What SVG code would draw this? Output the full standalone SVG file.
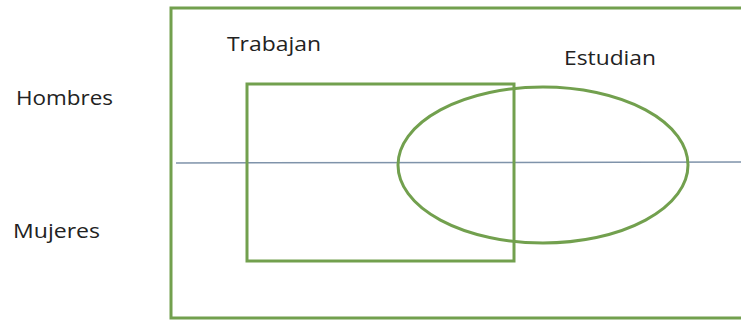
<svg xmlns="http://www.w3.org/2000/svg" width="741" height="320" viewBox="0 0 741 320">
<style>
.g{fill:none;stroke:#72a04e;stroke-width:3}
.t{font-family:"Open Sans","Liberation Sans",sans-serif;font-size:20px;fill:#222}
</style>
<rect width="741" height="320" fill="#fff"/>
<g id="universo"><path class="g" d="M742 8 H171 V318 H742"/></g>
<g id="divisor"><line x1="176" y1="163" x2="741" y2="162" stroke="#7f93aa" stroke-width="1.5"/></g>
<g id="trabajan-set"><rect class="g" x="247" y="84" width="267" height="177"/></g>
<g id="estudian-set"><ellipse class="g" cx="543" cy="165" rx="145" ry="78"/></g>
<g id="labels">
<text class="t" x="227" y="51" textLength="94" lengthAdjust="spacingAndGlyphs">Trabajan</text>
<text class="t" x="564" y="65" textLength="92" lengthAdjust="spacingAndGlyphs">Estudian</text>
<text class="t" x="16" y="105" textLength="97" lengthAdjust="spacingAndGlyphs">Hombres</text>
<text class="t" x="13" y="238" textLength="87" lengthAdjust="spacingAndGlyphs">Mujeres</text>
</g>
</svg>
